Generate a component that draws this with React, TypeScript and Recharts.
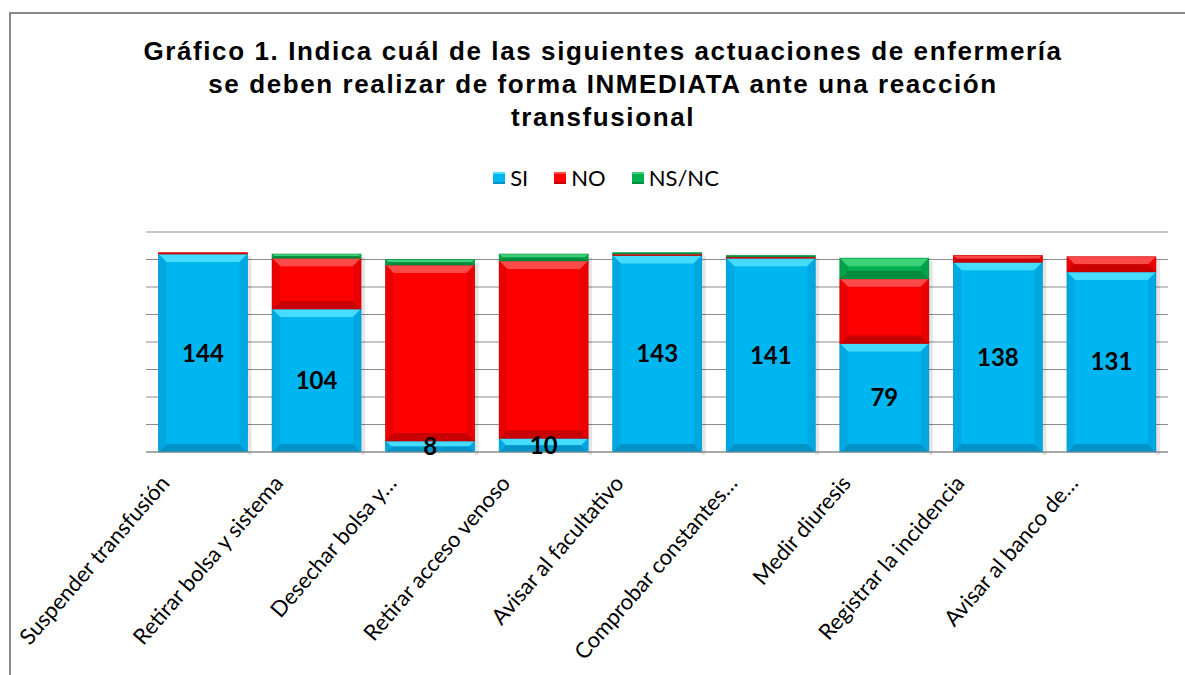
import React from "react";
import { BarChart, Bar, XAxis, YAxis, CartesianGrid, Legend, LabelList } from "recharts";

const categories = [
  "Suspender transfusión",
  "Retirar bolsa y sistema",
  "Desechar bolsa y…",
  "Retirar acceso venoso",
  "Avisar al facultativo",
  "Comprobar constantes…",
  "Medir diuresis",
  "Registrar la incidencia",
  "Avisar al banco de…",
];
const siValues = [144, 104, 8, 10, 143, 141, 79, 138, 131];
const noValues = [1, 37, 128, 129, 1, 1, 47, 5, 11];
const nsncValues = [0, 3, 4, 5, 1, 1, 15, 0, 0];
const yTicks = [0, 20, 40, 60, 80, 100, 120, 140, 160];
const titleLines = [
  "Gráfico 1. Indica cuál de las siguientes actuaciones de enfermería",
  "se deben realizar de forma INMEDIATA ante una reacción",
  "transfusional",
];

const data = categories.map((c, i) => ({
  name: c,
  SI: siValues[i],
  NO: noValues[i],
  "NS/NC": nsncValues[i],
}));

const palette: Record<string, { base: string; top: string; bottom: string; side: string }> = {
  SI: { base: "#00B6F0", top: "#46DCFF", bottom: "#0093C8", side: "#00A8E2" },
  NO: { base: "#FF0000", top: "#FF4A4A", bottom: "#C80000", side: "#EA0000" },
  "NS/NC": { base: "#00B050", top: "#3DD27A", bottom: "#008C40", side: "#00A24A" },
};

const makeShape = (key: string) => (props: any) => {
  const { x, y, width, height } = props;
  if (!height || height <= 0) return <g />;
  const c = palette[key];
  const b = Math.min(8, height / 2, width / 2);
  return (
    <g>
      <rect x={x + width} y={y + 3} width={4} height={height} fill="rgba(0,0,0,0.10)" />
      <rect x={x} y={y} width={width} height={height} fill={c.base} />
      <polygon points={`${x},${y} ${x + width},${y} ${x + width - b},${y + b} ${x + b},${y + b}`} fill={c.top} />
      <polygon
        points={`${x},${y + height} ${x + width},${y + height} ${x + width - b},${y + height - b} ${x + b},${y + height - b}`}
        fill={c.bottom}
      />
      <polygon points={`${x},${y} ${x + b},${y + b} ${x + b},${y + height - b} ${x},${y + height}`} fill={c.side} />
      <polygon
        points={`${x + width},${y} ${x + width - b},${y + b} ${x + width - b},${y + height - b} ${x + width},${y + height}`}
        fill={c.side}
      />
      <rect x={x} y={y} width={width} height={height} fill="none" stroke={c.bottom} strokeWidth={0.8} strokeOpacity={0.7} />
    </g>
  );
};

const CatTick = (props: any) => {
  const { x, y, payload } = props;
  const ax = x - 32;
  const ay = y + 32;
  return (
    <text
      x={ax}
      y={ay}
      transform={`rotate(-49, ${ax}, ${ay})`}
      textAnchor="end"
      fontFamily="Lato, 'Open Sans', sans-serif"
      fontSize={22}
      fill="#000"
    >
      {payload.value}
    </text>
  );
};

const legendItems = [
  { key: "SI", label: "SI" },
  { key: "NO", label: "NO" },
  { key: "NS/NC", label: "NS/NC" },
];

const LegendContent = () => (
  <div
    style={{
      display: "flex",
      justifyContent: "center",
      alignItems: "center",
      gap: 26,
      fontFamily: "Lato, 'Open Sans', sans-serif",
      fontSize: 22,
      color: "#000",
      paddingLeft: 27,
    }}
  >
    {legendItems.map((it) => (
      <div key={it.key} style={{ display: "flex", alignItems: "center" }}>
        <span
          style={{
            display: "inline-block",
            width: 12,
            height: 12,
            background: palette[it.key].base,
            boxShadow: `inset 0 2px 0 ${palette[it.key].top}, inset 0 -2px 0 ${palette[it.key].bottom}`,
            marginRight: 5,
          }}
        />
        <span>{it.label}</span>
      </div>
    ))}
  </div>
);

export default function App() {
  return (
    <div
      style={{
        position: "fixed",
        left: 0,
        top: 0,
        width: 1185,
        height: 675,
        overflow: "hidden",
        background: "#fff",
      }}
    >
      <div
        style={{
          position: "absolute",
          left: 9,
          top: 12,
          width: 1230,
          height: 720,
          border: "2px solid #888",
          boxSizing: "border-box",
        }}
      />
      <div
        style={{
          position: "absolute",
          left: 0,
          top: 35,
          width: 1206,
          textAlign: "center",
          fontFamily: "'Liberation Sans', Arial, sans-serif",
          fontWeight: "bold",
          fontSize: 26,
          letterSpacing: "1.6px",
          lineHeight: "33px",
          color: "#000",
        }}
      >
        {titleLines.map((l, i) => (
          <div key={i}>{l}</div>
        ))}
      </div>
      <div style={{ position: "absolute", left: 0, top: 0 }}>
        <BarChart
          width={1185}
          height={675}
          data={data}
          margin={{ top: 232, right: 17, bottom: 193, left: 146 }}
          barCategoryGap="11%"
        >
          <CartesianGrid horizontal vertical={false} stroke="#8c8c8c" strokeWidth={1.2} />
          <YAxis hide domain={[0, 160]} ticks={yTicks} type="number" />
          <XAxis
            dataKey="name"
            interval={0}
            tickLine={false}
            axisLine={{ stroke: "#8c8c8c" }}
            tickSize={0}
            tickMargin={0}
            height={30}
            tick={<CatTick />}
          />
          <Legend
            layout="horizontal"
            verticalAlign="middle"
            align="center"
            wrapperStyle={{ top: 164, left: 0, width: 1185 }}
            content={<LegendContent />}
          />
          <Bar dataKey="SI" stackId="a" isAnimationActive={false} shape={makeShape("SI")}>
            <LabelList
              dataKey="SI"
              position="center"
              fill="#000"
              fontFamily="Lato, 'Open Sans', sans-serif"
              fontWeight="bold"
              fontSize={24}
            />
          </Bar>
          <Bar dataKey="NO" stackId="a" isAnimationActive={false} shape={makeShape("NO")} />
          <Bar dataKey="NS/NC" stackId="a" isAnimationActive={false} shape={makeShape("NS/NC")} />
        </BarChart>
      </div>
    </div>
  );
}
